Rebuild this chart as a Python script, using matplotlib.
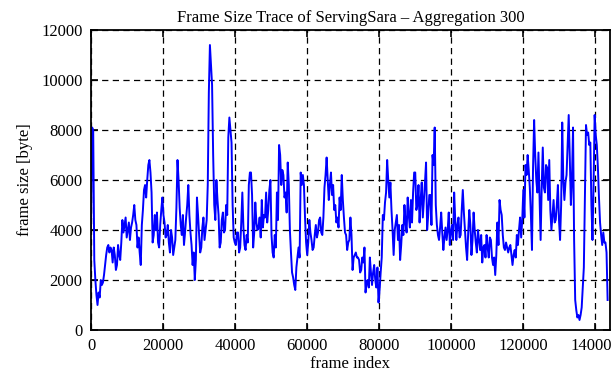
import numpy as np
import matplotlib
matplotlib.use("Agg")
import matplotlib.pyplot as plt

# aggregated frame sizes [byte], one value every 300 frames
frame_size = [
    # 0 - 18000
    4100, 8100, 8000, 2800, 2000, 1400, 1000, 1500, 1300, 2000,
    1800, 1900, 2200, 2600, 3000, 3300, 3400, 3100, 3300, 3200,
    2700, 3300, 3000, 2400, 2600, 3400, 3000, 2800, 3500, 4400,
    3900, 4200, 4500, 3700, 4000, 4300, 3600, 4100, 4300, 4600,
    5000, 4400, 4200, 3300, 3700, 3100, 2600, 4200, 4800, 5600,
    5800, 5300, 6000, 6600, 6800, 6300, 5500, 3500, 3800, 4600,
    # 18000 - 36000
    4000, 4700, 3500, 3300, 4200, 4800, 5300, 4600, 4300, 3700,
    3800, 4200, 3500, 3100, 4000, 3700, 3000, 3300, 3600, 4900,
    6800, 6000, 4900, 4200, 3800, 4600, 3400, 3900, 4500, 5000,
    5800, 4600, 3900, 3400, 2600, 3100, 2000, 2800, 5300, 4600,
    3800, 3100, 3300, 4100, 4500, 3600, 4000, 4400, 5800, 9500,
    11400, 10600, 9800, 7000, 5000, 4400, 6000, 5200, 4600, 3300,
    # 36000 - 54000
    3500, 4400, 4700, 3900, 4000, 5000, 4600, 7700, 8500, 8000,
    7500, 5000, 3700, 3500, 3400, 3900, 3900, 3100, 3300, 4300,
    5500, 4100, 3400, 3200, 3800, 3500, 5800, 6300, 6300, 5400,
    3300, 3900, 5100, 4300, 4000, 4100, 4500, 3700, 5200, 4100,
    4600, 4500, 5500, 4300, 4800, 5600, 6000, 3800, 3100, 2900,
    3800, 3300, 5500, 4400, 7400, 7000, 5800, 6400, 6200, 5300,
    # 54000 - 72000
    5500, 4700, 6700, 5800, 4000, 3100, 2300, 2100, 1800, 1600,
    2500, 2900, 3300, 2900, 6300, 5800, 6200, 5800, 4500, 3500,
    3000, 3500, 4400, 3900, 3600, 3200, 3300, 3800, 4200, 3700,
    3900, 4400, 4500, 3900, 3800, 4500, 5700, 6200, 6900, 6000,
    5200, 5800, 6300, 5400, 5800, 4800, 5000, 4300, 4500, 4100,
    5300, 4800, 6200, 5200, 4500, 3900, 3800, 3200, 3500, 3600,
    # 72000 - 90000
    4500, 3800, 2400, 2900, 3000, 3100, 2900, 2900, 2800, 2300,
    2400, 2900, 2700, 3300, 1500, 1900, 2000, 1700, 2900, 2300,
    1800, 2300, 2600, 2000, 1700, 2500, 1100, 1600, 2300, 2900,
    4600, 4400, 5100, 5500, 6800, 6000, 5300, 5900, 4800, 4000,
    3000, 4000, 4300, 4600, 3600, 4200, 2800, 3400, 4200, 3800,
    5000, 4300, 3900, 5300, 4600, 4100, 5200, 4300, 5500, 6300,
    # 90000 - 108000
    6300, 4800, 5000, 5800, 4300, 5200, 5900, 4500, 5200, 5900,
    6700, 4000, 4600, 5400, 5400, 4200, 7000, 6600, 8100, 5000,
    4200, 3800, 3600, 4100, 4700, 3900, 3200, 3700, 4100, 3600,
    4000, 4700, 3400, 3900, 4200, 3600, 5500, 4400, 3600, 4200,
    4500, 3700, 3800, 4800, 5600, 4700, 4000, 3300, 2800, 3900,
    4800, 4200, 3000, 3600, 4700, 4000, 3500, 3100, 4000, 3600,
    # 108000 - 126000
    3200, 3800, 2700, 3300, 3400, 2900, 3800, 3300, 2900, 3700,
    3600, 2900, 2600, 2900, 2200, 3000, 4300, 3400, 5200, 4800,
    4600, 3800, 3300, 3200, 3500, 3300, 3100, 3300, 3400, 3000,
    2600, 3000, 3200, 2900, 3800, 3400, 4000, 4500, 3700, 4400,
    5600, 4500, 6600, 6200, 7000, 6400, 5700, 4600, 3200, 6500,
    8400, 7000, 6000, 5500, 7100, 5300, 3600, 5700, 7300, 5700,
    # 126000 - 143400
    5500, 6600, 6500, 5200, 6800, 4800, 4000, 4600, 5200, 4300,
    4400, 5000, 5800, 4400, 3600, 5000, 8300, 6000, 5200, 5900,
    6200, 7400, 8600, 6900, 5000, 6000, 8100, 3600, 1200, 800,
    500, 600, 400, 600, 900, 1700, 2500, 5500, 8200, 7800,
    7900, 7400, 7500, 5000, 3600, 5800, 8600, 7800, 7400, 6500,
    5300, 4300, 3800, 3400, 3900, 3500, 3500, 3100, 1200,
]
step = 300
frame_index = np.arange(len(frame_size)) * step

xticks = [0, 20000, 40000, 60000, 80000, 100000, 120000, 140000]
yticks = [0, 2000, 4000, 6000, 8000, 10000, 12000]

plt.rcParams['font.family'] = ['Liberation Serif', 'DejaVu Serif']
plt.rcParams['font.size'] = 12

fig = plt.figure(figsize=(6.11, 3.8), dpi=100)
ax = fig.add_axes([0.149, 0.1316, 0.849, 0.7894])

ax.plot(frame_index, frame_size, color='#0000ff', lw=1.4)

ax.set_xlim(0, 144000)
ax.set_ylim(0, 12000)
ax.set_xticks(xticks)
ax.set_yticks(yticks)
ax.grid(True, color='black', linestyle=(0, (5, 3.5)), linewidth=0.9)
ax.tick_params(direction='in', length=5, width=1.2, top=True, right=True, pad=6)
for s in ax.spines.values():
    s.set_linewidth(1.3)

ax.set_title("Frame Size Trace of ServingSara \u2013 Aggregation 300", fontsize=12, pad=6)
ax.set_xlabel("frame index", labelpad=1)
ax.set_ylabel("frame size [byte]", labelpad=6)

fig.savefig("out.png", dpi=100)
